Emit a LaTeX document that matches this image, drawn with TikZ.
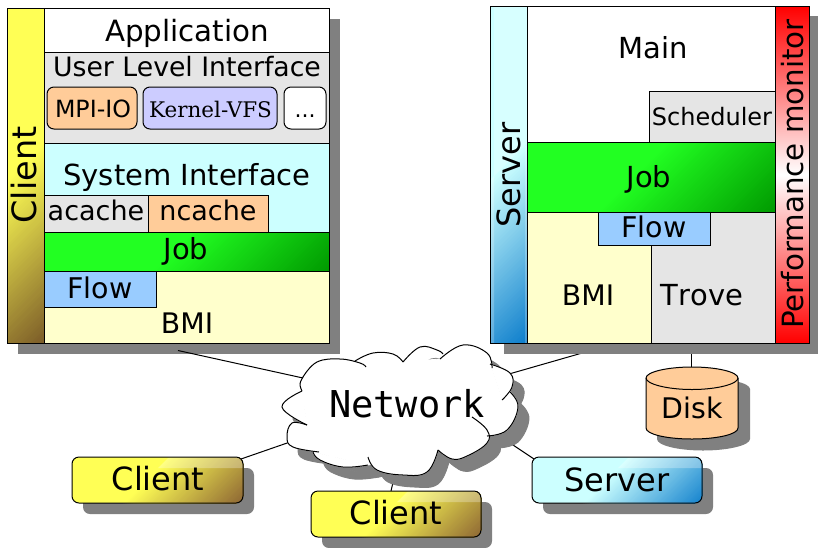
\documentclass[tikz,border=0pt]{standalone}
\usepackage{fontspec}
\setmainfont{DejaVu Sans}
\setmonofont{DejaVu Sans Mono}
\newfontfamily\kvfont{DejaVu Serif}
\pgfdeclarelayer{bgl}
\pgfdeclarelayer{conn}
\pgfsetlayers{bgl,conn,main}
\definecolor{shad}{HTML}{808080}
\definecolor{gry}{HTML}{E5E5E5}
\definecolor{org}{HTML}{FFCC99}
\definecolor{lil}{HTML}{CCCCFF}
\definecolor{cyn}{HTML}{CCFFFF}
\definecolor{grn}{HTML}{22FF22}
\definecolor{dgrn}{HTML}{009900}
\definecolor{blu}{HTML}{99CCFF}
\definecolor{yel}{HTML}{FFFFCC}
\definecolor{yl}{HTML}{FFFF55}
\definecolor{brn}{HTML}{7A5A28}
\definecolor{brnb}{HTML}{8C6433}
\definecolor{sblu}{HTML}{0B7CCB}
\tikzset{
  boxs/.style={draw=black,line width=1pt,inner sep=0pt,outer sep=0pt,minimum width=10pt},
  lab/.style={anchor=base,inner sep=0pt,text=black},
  conline/.style={draw=black,line width=1pt},
  rnd/.style={rounded corners=7pt}
}
% box node from its corners
\newcommand\bx[6]{%
  \pgfmathsetmacro{\cxx}{(#2+#4)/2}\pgfmathsetmacro{\cyy}{(#3+#5)/2}%
  \pgfmathsetmacro{\www}{#4-#2}\pgfmathsetmacro{\hhh}{#5-#3}%
  \node[boxs,#6,minimum width=\www pt,minimum height=\hhh pt] (#1) at (\cxx,\cyy) {};}
% diagonal gradient fill: x+y from t0 to t1
\newcommand\diag[9]{%
  \begin{scope}
    \path[clip,#9] (#1,#2) rectangle (#3,#4);
    \fill[#7] (#1,#2) rectangle (#3,#4);
    \foreach \i in {0,...,60}{%
      \pgfmathsetmacro{\ttt}{#5+(#6-#5)*\i/60}%
      \pgfmathsetmacro{\pct}{int(\i*100/60)}%
      \fill[#8!\pct!#7] (\ttt-#2,#2) -- (\ttt-#4,#4) -- (\ttt-#4+1000,#4) -- (\ttt-#2+1000,#2) -- cycle;
    }
  \end{scope}}
% translucent gloss limited to x+y>=t
\newcommand\gloss[5]{%
  \begin{scope}
    \clip[rounded corners=7pt] (#1,#2) rectangle (#3,#2+40);
    \fill[white,opacity=.28] (#5-#2,#2) -- (#5-#4,#4) -- (#3+5,#4) -- (#3+5,#2) -- cycle;
  \end{scope}}
\newcommand\cloudlobes[1]{%
  #1 plot[smooth,tension=.7] coordinates {(303,377) (317,362) (340,359) (360,363) (366,367)};
  #1 plot[smooth,tension=.7] coordinates {(355,361) (373,353) (393,354) (403,362)};
  #1 plot[smooth,tension=.7] coordinates {(403,362) (420,347) (437,350) (443,354)};
  #1 plot[smooth,tension=.7] coordinates {(440,359) (463,345) (487,353) (492,368)};
  #1 plot[smooth,tension=.7] coordinates {(490,364) (510,373) (512,387) (502,400)};
  #1 plot[smooth,tension=.7] coordinates {(510,392) (518,407) (507,430) (487,436)};
  #1 plot[smooth,tension=.7] coordinates {(472,417) (487,430) (487,443) (467,456) (452,459) (438,450)};
  #1 plot[smooth,tension=.7] coordinates {(438,450) (427,472) (403,475) (377,470) (368,457)};
  #1 plot[smooth,tension=.7] coordinates {(368,465) (343,467) (320,460) (313,452)};
  #1 plot[smooth,tension=.7] coordinates {(319,452) (293,447) (287,437) (292,423) (307,425)};
  #1 plot[smooth,tension=.7] coordinates {(307,425) (282,407) (302,391)};
  #1 plot[smooth,tension=.7] coordinates {(302,391) (300,384) (303,377)};
}
\newcommand\cloudcore[1]{%
  #1 (303,377) -- (355,361) -- (403,362) -- (440,359) -- (490,364) -- (502,400) -- (510,392) -- (507,430) -- (487,436) -- (438,450) -- (368,465) -- (313,452) -- (307,425) -- (302,391) -- cycle;}
\begin{document}
\begin{tikzpicture}[x=1pt,y=-1pt]
\useasboundingbox (0,0) rectangle (818,547);
\begin{pgfonlayer}{bgl}
\fill[white] (0,0) rectangle (818,547);
\end{pgfonlayer}

% shadows
\fill[shad] (18,19) rectangle (340,354);
\fill[shad] (504,16) rectangle (818,354);
\fill[shad,rnd] (83,468) rectangle (254,514);
\fill[shad,rnd] (322,502) rectangle (492,548);
\fill[shad,rnd] (543,468) rectangle (713,514);
\begin{scope}[shift={(11,12)}]
  \cloudcore{\filldraw[shad,line width=.9pt]}
  \cloudlobes{\filldraw[shad,line width=.9pt]}
\end{scope}
\fill[shad] (657,389) -- (657,439) .. controls (657,445.3) and (677.7,450.5) .. (703,450.5) .. controls (728.3,450.5) and (750,445.3) .. (750,439) -- (750,389) .. controls (750,383) and (728,378) .. (703,378) .. controls (678,378) and (657,383) .. (657,389) -- cycle;

% ---------- left stack
\diag{7}{8}{44}{343}{185}{387}{yl}{brn}{}
\bx{cband}{7}{8}{44}{343}{}
\bx{app}{44}{8}{329}{52}{fill=white}
\bx{uli}{44}{52}{329}{143}{fill=gry}
\bx{mpi}{47}{87}{137}{129}{fill=org,rnd}
\bx{kvfs}{143}{87}{277}{129}{fill=lil,rnd}
\bx{dots}{284}{87}{326}{129}{fill=white,rnd}
\bx{sysi}{44}{143}{329}{232}{fill=cyn}
\bx{acache}{44}{195}{148}{232}{fill=gry}
\bx{ncache}{148}{195}{268}{232}{fill=org}
\diag{44}{232}{329}{271}{422}{600}{grn}{dgrn}{}
\bx{jobL}{44}{232}{329}{271}{}
\bx{bmiL}{44}{271}{329}{343}{fill=yel}
\bx{flowL}{44}{271}{156}{307}{fill=blu}

\node[lab,font=\fontsize{33.5}{33}\selectfont,rotate=90] (tclient) at (36,175) {Client};
\node[lab,font=\fontsize{29.3}{30}\selectfont] (tapp) at (187,41) {Application};
\node[lab,font=\fontsize{26.7}{30}\selectfont] (tuli) at (187,76) {User Level Interface};
\node[lab,font=\fontsize{23.7}{24}\selectfont] (tmpi) at (93,117) {MPI-IO};
\node[lab,font=\kvfont\fontsize{21.5}{25}\selectfont] (tkv) at (210.5,117) {Kernel-VFS};
\node[lab,font=\fontsize{22}{24}\selectfont] (tdots) at (305,117) {...};
\node[lab,font=\fontsize{29}{30}\selectfont] (tsys) at (187,185) {System Interface};
\node[lab,font=\fontsize{27}{27}\selectfont] (tac) at (96,220) {acache};
\node[lab,font=\fontsize{27}{27}\selectfont] (tnc) at (208,220) {ncache};
\node[lab,font=\fontsize{29}{29}\selectfont] (tjobL) at (186,259) {Job};
\node[lab,font=\fontsize{28.5}{29}\selectfont] (tflowL) at (100,298) {Flow};
\node[lab,font=\fontsize{28.3}{29}\selectfont] (tbmiL) at (187,333) {BMI};

% ---------- right stack
\diag{490}{6}{527}{343}{670}{870}{cyn}{sblu}{}
\begin{scope}
  \clip (490,6) rectangle (527,343);
  \fill[white,opacity=.22] (664,6) -- (327,343) -- (494,343) -- (494,6) -- cycle;
  \fill[white,opacity=.22] (524.5,146) rectangle (527,343);
\end{scope}
\bx{sband}{490}{6}{527}{343}{}
\bx{main}{527}{6}{775}{142}{fill=white}
\bx{sched}{649}{91}{775}{142}{fill=gry}
\diag{527}{142}{775}{212}{808}{987}{grn}{dgrn}{}
\bx{jobR}{527}{142}{775}{212}{}
\bx{bmiR}{527}{212}{651}{343}{fill=yel}
\bx{trove}{651}{212}{775}{343}{fill=gry}
\bx{flowR}{598}{212}{710}{245}{fill=blu}
\bx{mon}{775}{6}{809}{343}{top color=red,bottom color=red,middle color=white,shading=axis}

\node[lab,font=\fontsize{32}{32}\selectfont,rotate=90] (tserver) at (520,175) {Server};
\node[lab,font=\fontsize{29.3}{30}\selectfont,rotate=90] (tmon) at (803,174) {Performance monitor};
\node[lab,font=\fontsize{29}{29}\selectfont] (tmain) at (653,58) {Main};
\node[lab,font=\fontsize{24}{24}\selectfont] (tsched) at (712,125) {Scheduler};
\node[lab,font=\fontsize{29}{29}\selectfont] (tjobR) at (649,187) {Job};
\node[lab,font=\fontsize{28.5}{29}\selectfont] (tflowR) at (654,237) {Flow};
\node[lab,font=\fontsize{28.3}{29}\selectfont] (tbmiR) at (588,305) {BMI};
\node[lab,font=\addfontfeatures{Kerning=Off}\fontsize{29}{29}\selectfont] (ttrove) at (702,305) {Trove};

% ---------- cloud
\cloudcore{\filldraw[white,line width=.9pt]}
\cloudlobes{\filldraw[white,line width=.9pt]}
\cloudlobes{\draw[line width=1pt,black]}
\node[lab,font=\ttfamily\fontsize{37}{37}\selectfont] (cloud) at (407,417) {Network};

% ---------- disk
\path[fill=org,draw=black,line width=1pt] (646,378) -- (646,428) .. controls (646,434.3) and (666.7,439) .. (692,439) .. controls (717.3,439) and (738,434.3) .. (738,428) -- (738,378) .. controls (738,372) and (717,367) .. (692,367) .. controls (667,367) and (646,372) .. (646,378) -- cycle;
\draw[line width=1pt,black] (646,378) .. controls (646,384) and (667,389.5) .. (692,389.5) .. controls (717,389.5) and (738,384) .. (738,378);
\node[lab,font=\fontsize{28.4}{29}\selectfont] (disk) at (692,418) {Disk};

% ---------- bottom boxes
\diag{72}{457}{243}{503}{626}{746}{yl}{brnb}{rounded corners=7pt}
\gloss{72}{457}{243}{468}{626}
\bx{client1}{72}{457}{243}{503}{rnd}
\node[lab,font=\fontsize{32}{32}\selectfont] (tc1) at (158,490) {Client};
\diag{311}{491}{481}{537}{899}{1019}{yl}{brnb}{rounded corners=7pt}
\gloss{311}{491}{481}{502}{899}
\bx{client2}{311}{491}{481}{537}{rnd}
\node[lab,font=\fontsize{32}{32}\selectfont] (tc2) at (396,524) {Client};
\diag{532}{457}{702}{503}{1086}{1210}{cyn}{sblu}{rounded corners=7pt}
\gloss{532}{457}{702}{468}{1086}
\bx{server1}{532}{457}{702}{503}{rnd}
\node[lab,font=\fontsize{32}{32}\selectfont] (ts1) at (617,491) {Server};

% ---------- connectors
\coordinate (pL) at (178,350.5);
\coordinate (cL) at (303,378);
\coordinate (pR) at (617,343);
\coordinate (cR) at (509,374);
\coordinate (pD) at (691,343);
\coordinate (dD) at (691,367);
\coordinate (cC1) at (290,442);
\coordinate (cC2) at (394,478);
\coordinate (cS) at (513,445);
\coordinate (qC1) at (241,459);
\coordinate (qC2) at (391,491);
\coordinate (qS) at (534,459);
\draw[conline] (pL) -- (cL);
\begin{pgfonlayer}{conn}
  \draw[conline] (pR) -- (cR);
  \draw[conline] (pD) -- (dD);
  \draw[conline] (qC1) -- (cC1);
  \draw[conline] (qC2) -- (cC2);
  \draw[conline] (qS) -- (cS);
\end{pgfonlayer}
\end{tikzpicture}
\end{document}
